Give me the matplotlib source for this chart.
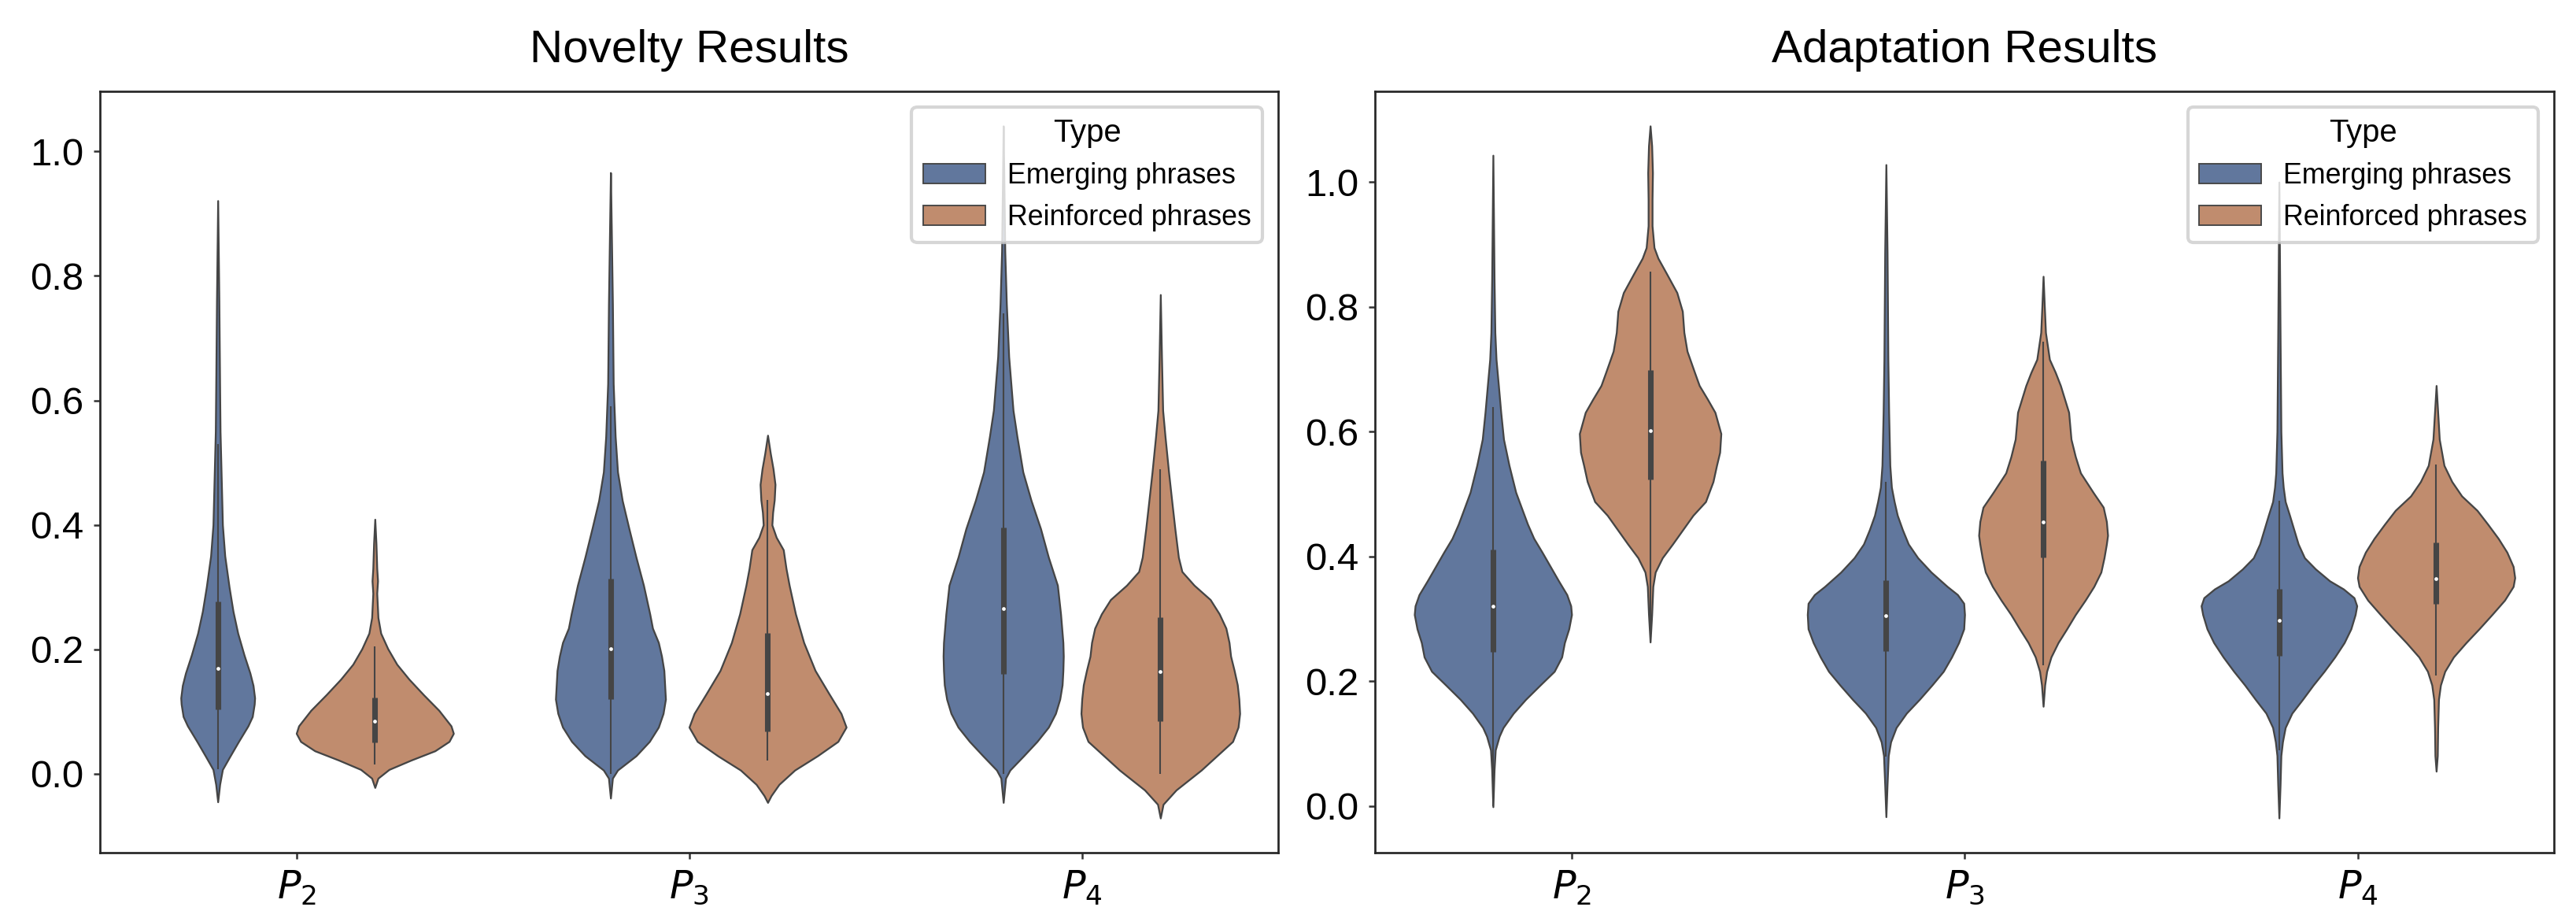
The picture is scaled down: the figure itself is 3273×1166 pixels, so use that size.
import matplotlib
matplotlib.use("Agg")
import matplotlib.pyplot as plt
from matplotlib.patches import Patch

plt.rcParams['font.family'] = ['Liberation Sans', 'DejaVu Sans']

groups = ['$P_2$', '$P_3$', '$P_4$']
types = ['Emerging phrases', 'Reinforced phrases']
titles = ['Novelty Results', 'Adaptation Results']

# violin outlines: values (y) and half widths (in category units)
# --- Novelty ---
nov_em_p2_y = [-0.045, -0.017, 0.007, 0.027, 0.052, 0.077, 0.092, 0.112, 0.122, 0.142, 0.162, 0.191,
               0.226, 0.261, 0.30, 0.35, 0.40, 0.475, 0.55, 0.616, 0.76, 0.921]
nov_em_p2_w = [0, 0.005, 0.012, 0.03, 0.053, 0.077, 0.088, 0.093, 0.094, 0.09, 0.082, 0.067,
               0.051, 0.039, 0.029, 0.018, 0.012, 0.009, 0.006, 0.005, 0.003, 0]
nov_re_p2_y = [-0.022, -0.007, 0.007, 0.022, 0.037, 0.052, 0.065, 0.077, 0.102, 0.127, 0.152, 0.176,
               0.201, 0.226, 0.251, 0.29, 0.31, 0.33, 0.37, 0.409]
nov_re_p2_w = [0, 0.008, 0.036, 0.092, 0.153, 0.189, 0.2, 0.194, 0.163, 0.124, 0.087, 0.056,
               0.033, 0.015, 0.008, 0.005, 0.007, 0.005, 0.003, 0]
nov_em_p3_y = [-0.039, -0.007, 0.006, 0.029, 0.052, 0.075, 0.097, 0.12, 0.143, 0.166, 0.189, 0.211,
               0.234, 0.257, 0.303, 0.348, 0.394, 0.439, 0.485, 0.542, 0.627, 0.755, 0.883, 0.966]
nov_em_p3_w = [0, 0.005, 0.018, 0.065, 0.099, 0.122, 0.134, 0.14, 0.138, 0.136, 0.13, 0.122,
               0.107, 0.1, 0.084, 0.065, 0.047, 0.03, 0.018, 0.012, 0.007, 0.005, 0.002, 0]
nov_re_p3_y = [-0.046, -0.035, -0.017, 0.006, 0.029, 0.052, 0.075, 0.097, 0.129, 0.166, 0.211, 0.257,
               0.303, 0.33, 0.36, 0.38, 0.40, 0.42, 0.44, 0.465, 0.49, 0.515, 0.544]
nov_re_p3_w = [0, 0.009, 0.029, 0.069, 0.127, 0.179, 0.2, 0.187, 0.156, 0.121, 0.092, 0.071,
               0.055, 0.047, 0.04, 0.022, 0.011, 0.013, 0.017, 0.019, 0.014, 0.007, 0]
nov_em_p4_y = [-0.046, -0.007, 0.006, 0.029, 0.052, 0.075, 0.097, 0.12, 0.143, 0.166, 0.189, 0.211,
               0.257, 0.303, 0.348, 0.394, 0.439, 0.485, 0.542, 0.584, 0.67, 0.755, 0.84, 0.94, 1.041]
nov_em_p4_w = [0, 0.006, 0.017, 0.052, 0.086, 0.115, 0.133, 0.144, 0.15, 0.152, 0.153, 0.152,
               0.146, 0.138, 0.115, 0.095, 0.071, 0.05, 0.035, 0.025, 0.014, 0.008, 0.004, 0.002, 0]
nov_re_p4_y = [-0.071, -0.049, -0.026, 0.006, 0.029, 0.052, 0.075, 0.097, 0.12, 0.143, 0.166, 0.189,
               0.211, 0.234, 0.257, 0.28, 0.303, 0.325, 0.348, 0.394, 0.439, 0.485, 0.542, 0.584, 0.67, 0.77]
nov_re_p4_w = [0, 0.007, 0.04, 0.104, 0.144, 0.184, 0.198, 0.202, 0.2, 0.196, 0.188, 0.179,
               0.175, 0.167, 0.15, 0.127, 0.086, 0.055, 0.046, 0.037, 0.029, 0.021, 0.012, 0.006, 0.003, 0]

# --- Adaptation ---
ada_em_p2_y = [-0.001, 0.058, 0.09, 0.112, 0.126, 0.149, 0.171, 0.194, 0.216, 0.239, 0.262, 0.284,
               0.307, 0.321, 0.339, 0.361, 0.384, 0.407, 0.429, 0.452, 0.474, 0.503, 0.546, 0.588,
               0.631, 0.674, 0.716, 0.759, 0.844, 1.043]
ada_em_p2_w = [0, 0.003, 0.006, 0.016, 0.026, 0.052, 0.083, 0.12, 0.156, 0.175, 0.182, 0.193,
               0.2, 0.198, 0.188, 0.167, 0.146, 0.125, 0.104, 0.088, 0.075, 0.058, 0.041, 0.027,
               0.02, 0.014, 0.008, 0.005, 0.003, 0]
ada_re_p2_y = [0.263, 0.307, 0.352, 0.375, 0.398, 0.42, 0.443, 0.466, 0.488, 0.52, 0.546, 0.567,
               0.597, 0.631, 0.652, 0.674, 0.695, 0.729, 0.759, 0.793, 0.823, 0.853, 0.878, 0.895,
               0.93, 0.972, 1.015, 1.058, 1.09]
ada_re_p2_w = [0, 0.004, 0.007, 0.013, 0.031, 0.057, 0.083, 0.109, 0.141, 0.16, 0.169, 0.177,
               0.18, 0.165, 0.146, 0.125, 0.113, 0.094, 0.086, 0.082, 0.068, 0.042, 0.02, 0.01,
               0.005, 0.005, 0.006, 0.004, 0]
ada_em_p3_y = [-0.017, 0.035, 0.081, 0.103, 0.126, 0.149, 0.171, 0.194, 0.216, 0.239, 0.262, 0.284,
               0.307, 0.325, 0.339, 0.352, 0.375, 0.398, 0.42, 0.443, 0.466, 0.488, 0.511, 0.546,
               0.631, 0.716, 0.887, 1.028]
ada_em_p3_w = [0, 0.003, 0.006, 0.012, 0.026, 0.052, 0.085, 0.117, 0.146, 0.167, 0.185, 0.198,
               0.2, 0.198, 0.182, 0.156, 0.115, 0.081, 0.057, 0.042, 0.029, 0.021, 0.014, 0.01,
               0.007, 0.005, 0.003, 0]
ada_re_p3_y = [0.16, 0.194, 0.216, 0.239, 0.262, 0.284, 0.307, 0.33, 0.352, 0.375, 0.398, 0.42,
               0.434, 0.456, 0.479, 0.502, 0.534, 0.56, 0.588, 0.631, 0.674, 0.695, 0.716, 0.759,
               0.802, 0.849]
ada_re_p3_w = [0, 0.004, 0.009, 0.02, 0.038, 0.06, 0.082, 0.107, 0.129, 0.147, 0.155, 0.161,
               0.164, 0.161, 0.153, 0.128, 0.095, 0.082, 0.071, 0.065, 0.044, 0.031, 0.016, 0.006,
               0.003, 0]
ada_em_p4_y = [-0.019, 0.035, 0.081, 0.103, 0.126, 0.149, 0.171, 0.194, 0.216, 0.239, 0.262, 0.284,
               0.307, 0.321, 0.334, 0.348, 0.361, 0.38, 0.398, 0.42, 0.443, 0.466, 0.488, 0.511,
               0.534, 0.6, 0.75, 1.0]
ada_em_p4_w = [0, 0.003, 0.005, 0.009, 0.016, 0.033, 0.06, 0.087, 0.115, 0.142, 0.166, 0.183,
               0.194, 0.198, 0.191, 0.164, 0.129, 0.093, 0.065, 0.049, 0.038, 0.027, 0.016, 0.011,
               0.008, 0.005, 0.003, 0]
ada_re_p4_y = [0.056, 0.081, 0.126, 0.171, 0.194, 0.216, 0.239, 0.262, 0.284, 0.307, 0.33, 0.352,
               0.366, 0.384, 0.407, 0.429, 0.452, 0.474, 0.497, 0.52, 0.546, 0.588, 0.631, 0.674]
ada_re_p4_w = [0, 0.003, 0.004, 0.006, 0.011, 0.022, 0.044, 0.076, 0.109, 0.142, 0.174, 0.196,
               0.2, 0.196, 0.18, 0.158, 0.131, 0.104, 0.065, 0.04, 0.02, 0.008, 0.004, 0]

# inner box: q1, median, q3, whisker low, whisker high
nov_em_box = [[0.103, 0.17, 0.277, 0.007, 0.53],
              [0.12, 0.201, 0.314, 0.0, 0.59],
              [0.161, 0.265, 0.396, 0.0, 0.74]]
nov_re_box = [[0.05, 0.085, 0.123, 0.015, 0.205],
              [0.068, 0.129, 0.226, 0.022, 0.44],
              [0.084, 0.164, 0.252, 0.0, 0.49]]
ada_em_box = [[0.247, 0.32, 0.411, 0.0, 0.64],
              [0.248, 0.305, 0.362, 0.08, 0.52],
              [0.241, 0.298, 0.348, 0.09, 0.49]]
ada_re_box = [[0.524, 0.602, 0.699, 0.28, 0.856],
              [0.399, 0.456, 0.554, 0.226, 0.744],
              [0.324, 0.365, 0.423, 0.21, 0.548]]

colors = ['#61779d', '#c08c6e']
edge = '#454545'

panels = [
    ([(nov_em_p2_y, nov_em_p2_w), (nov_em_p3_y, nov_em_p3_w), (nov_em_p4_y, nov_em_p4_w)],
     [(nov_re_p2_y, nov_re_p2_w), (nov_re_p3_y, nov_re_p3_w), (nov_re_p4_y, nov_re_p4_w)],
     nov_em_box, nov_re_box),
    ([(ada_em_p2_y, ada_em_p2_w), (ada_em_p3_y, ada_em_p3_w), (ada_em_p4_y, ada_em_p4_w)],
     [(ada_re_p2_y, ada_re_p2_w), (ada_re_p3_y, ada_re_p3_w), (ada_re_p4_y, ada_re_p4_w)],
     ada_em_box, ada_re_box),
]


def draw_violin(ax, pos, ys, ws, box, color):
    left = [pos - w for w in ws]
    right = [pos + w for w in ws]
    ax.fill_betweenx(ys, left, right, facecolor=color, edgecolor=edge,
                     linewidth=0.55, joinstyle='round', zorder=2)
    q1, med, q3, lo, hi = box
    ax.vlines(pos, lo, hi, color=edge, linewidth=0.5, zorder=3)
    ax.vlines(pos, q1, q3, color=edge, linewidth=1.7, capstyle='butt', zorder=3)
    ax.scatter([pos], [med], s=1.3, color='white', linewidths=0, zorder=4)


fig = plt.figure(figsize=(10.91, 3.8867), dpi=300)
ax_l = fig.add_axes([0.0388, 0.0712, 0.4574, 0.8293])
ax_r = fig.add_axes([0.5338, 0.0712, 0.4577, 0.8293])

for ax, title, (em, re, em_box, re_box) in zip([ax_l, ax_r], titles, panels):
    for i in range(len(groups)):
        draw_violin(ax, i - 0.2, em[i][0], em[i][1], em_box[i], colors[0])
        draw_violin(ax, i + 0.2, re[i][0], re[i][1], re_box[i], colors[1])
    ax.set_xlim(-0.5, 2.5)
    ax.set_xticks(range(len(groups)))
    ax.set_xticklabels(groups)
    ax.set_yticks([0.0, 0.2, 0.4, 0.6, 0.8, 1.0])
    ax.set_yticklabels(['0.0', '0.2', '0.4', '0.6', '0.8', '1.0'])
    ax.tick_params(length=2, width=0.6, labelsize=11.8, color='#333333', pad=3)
    for sp in ax.spines.values():
        sp.set_linewidth(0.65)
        sp.set_color('#262626')
    ax.set_title(title, fontsize=14, pad=9)
    handles = [Patch(facecolor=colors[k], edgecolor=edge, linewidth=0.45, label=types[k])
               for k in range(2)]
    ax.legend(handles=handles, title='Type', loc='upper right', fontsize=8.6,
              title_fontsize=9.6, handlelength=2.2, borderaxespad=0.55)

fig.savefig('out.png', dpi=300)
